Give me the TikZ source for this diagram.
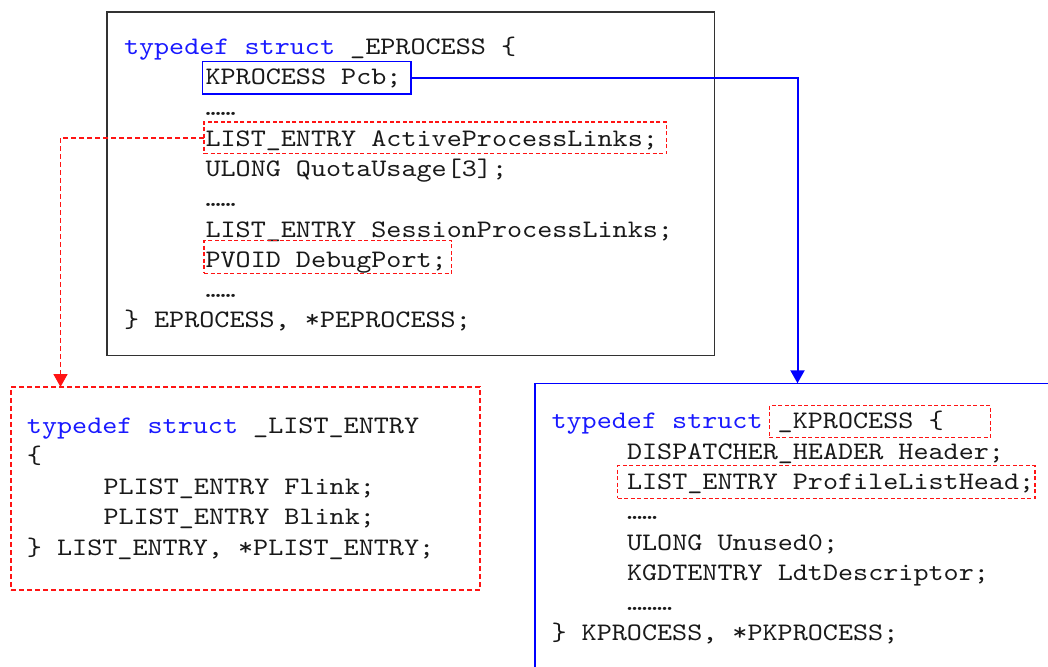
\documentclass[tikz,border=0pt]{standalone}
\usepackage{fontspec}
\usetikzlibrary{arrows.meta}
\newfontfamily\codefont[Extension=.otf,FakeStretch=1.14]{lmmono10-regular}
\definecolor{kwblue}{RGB}{25,25,255}
\definecolor{ink}{RGB}{25,25,25}
\definecolor{linkred}{RGB}{255,20,20}
\definecolor{framegray}{RGB}{50,50,50}
\newcommand\kwd[1]{\textcolor{kwblue}{#1}}

\begin{document}
\begin{tikzpicture}[x=1pt,y=-1pt,
  code/.style={anchor=base west, inner sep=0pt, outer sep=0pt,
    font=\codefont\fontsize{25.2}{30}\selectfont\frenchspacing, text=ink},
  box/.style={rectangle, inner sep=0pt, outer sep=0pt},
  plainframe/.style={box, draw=framegray, line width=1.2pt},
  blueframe/.style={box, draw=blue, line width=1.5pt},
  redframe/.style={box, draw=linkred, line width=1.6pt, dash pattern=on 5pt off 3pt},
  bluemark/.style={box, draw=blue, line width=1.3pt},
  redmark/.style={box, draw=linkred, line width=1.4pt, dash pattern=on 4pt off 2.5pt},
  bluelink/.style={draw=blue, line width=2pt, -{Triangle[width=14pt,length=13pt]}},
  redlink/.style={draw=linkred, line width=1.7pt, dash pattern=on 5pt off 3pt,
    -{Triangle[width=14pt,length=13pt]}}
]
\clip (0,0) rectangle (1048,666);

% struct frames
\node[plainframe, minimum width=607.5pt, minimum height=343.5pt] (eproc) at (410.75,183.75) {};
\node[redframe, minimum width=469pt, minimum height=203pt] (lbox) at (245.5,488.5) {};
\node[blueframe, minimum width=525pt, minimum height=316.7pt] (kbox) at (797.5,541.65) {};

% _EPROCESS
\node[code] (e1) at (124,55) {\kwd{typedef struct} \_EPROCESS \{};
\node[code] (e2) at (205.5,85) {KPROCESS Pcb;};
\node[code] (e3) at (205.5,115) {……};
\node[code] (e4) at (205.5,146) {LIST\_ENTRY ActiveProcessLinks;};
\node[code] (e5) at (205.5,176) {ULONG QuotaUsage[3];};
\node[code] (e6) at (205.5,206) {……};
\node[code] (e7) at (205.5,237) {LIST\_ENTRY SessionProcessLinks;};
\node[code] (e8) at (205.5,267) {PVOID DebugPort;};
\node[code] (e9) at (205.5,297) {……};
\node[code] (e10) at (124,327) {\} EPROCESS, *PEPROCESS;};

% _LIST_ENTRY
\node[code] (l1) at (27,433) {\kwd{typedef struct} \_LIST\_ENTRY};
\node[code] (l2) at (27,463) {\{};
\node[code] (l3) at (103.5,494) {PLIST\_ENTRY Flink;};
\node[code] (l4) at (103.5,524) {PLIST\_ENTRY Blink;};
\node[code] (l5) at (27,555) {\} LIST\_ENTRY, *PLIST\_ENTRY;};

% _KPROCESS
\node[code] (k1) at (551.5,428) {\kwd{typedef struct} \_KPROCESS \{};
\node[code] (k2) at (627,459) {DISPATCHER\_HEADER Header;};
\node[code] (k3) at (627,489) {LIST\_ENTRY ProfileListHead;};
\node[code] (k4) at (627,519) {……};
\node[code] (k5) at (627,550) {ULONG Unused0;};
\node[code] (k6) at (627,580) {KGDTENTRY LdtDescriptor;};
\node[code] (k7) at (627,610) {………};
\node[code] (k8) at (551.5,640) {\} KPROCESS, *PKPROCESS;};

% highlighted members
\node[bluemark, minimum width=208.7pt, minimum height=32.3pt] (pcb) at (306.65,77.85) {};
\node[redmark, minimum width=462.7pt, minimum height=31.5pt] (active) at (435.35,137.75) {};
\node[redmark, minimum width=247.7pt, minimum height=32.6pt] (debug) at (327.85,257) {};
\node[redmark, minimum width=221.4pt, minimum height=31.6pt] (kname) at (880,421.5) {};
\node[redmark, minimum width=417.3pt, minimum height=32.6pt] (profile) at (826.35,482) {};

% links between structures
\draw[bluelink] (pcb.east) -| (kbox.north);
\draw[redlink] (active.west) -| ([xshift=49.5pt]lbox.north west);
\end{tikzpicture}
\end{document}
